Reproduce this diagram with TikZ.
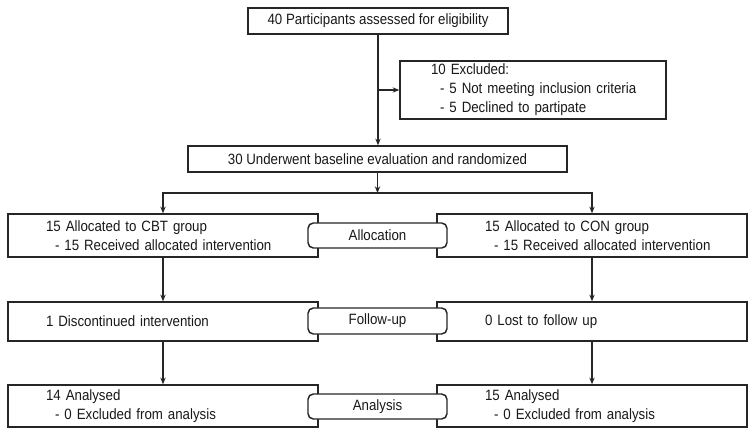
\documentclass[tikz,border=0pt]{standalone}
\usepackage{fontspec}
\setmainfont{Liberation Sans}[FakeStretch=0.89]
\usetikzlibrary{arrows.meta}
\newcommand{\fsz}{\fontsize{11.2}{14.25}\selectfont}
\newcommand{\padL}{\hspace*{28.5pt}}
\newcommand{\padR}{\hspace*{36pt}}
\newcommand{\padE}{\hspace*{23.25pt}}
\newcommand{\ind}{\hspace*{6.75pt}}
\tikzset{
  base box/.style={draw=black!85, line width=1.1pt, rectangle, inner ysep=0pt, font=\fsz, text=black!90, fill=white},
  cbox/.style n args={2}{base box, align=center, minimum width=#1, minimum height=#2, inner xsep=0pt},
  lbox/.style n args={2}{base box, align=left, text width=#1, inner xsep=0pt, minimum height=#2},
  phase/.style={base box, rounded corners=4pt, align=center, minimum width=104.25pt, minimum height=#1, inner xsep=0pt},
  arr/.style={draw=black!85, line width=0.8pt, -{Stealth[length=5pt,width=4pt]}}
}
\begin{document}
\begin{tikzpicture}[x=0.75pt,y=-0.75pt]
\useasboundingbox (0,0) rectangle (756,438);
\node[cbox={195pt}{19.5pt}] (top) at (378,21) {40 Participants assessed for eligibility};
\node[lbox={199.5pt}{43.5pt}] (excl) at (533,90) {\padE 10 Excluded:\\\padE\ind- 5 Not meeting inclusion criteria\\\padE\ind- 5 Declined to partipate};
\node[cbox={284.25pt}{19.5pt}] (base) at (377.5,159) {30 Underwent baseline evaluation and randomized};
\node[lbox={232.5pt}{32.25pt}] (cbt) at (163,235.5) {\padL 15 Allocated to CBT group\\\padL\ind- 15 Received allocated intervention};
\node[lbox={232.5pt}{32.25pt}] (con) at (592,235.5) {\padR 15 Allocated to CON group\\\padR\ind- 15 Received allocated intervention};
\node[lbox={232.5pt}{29.25pt}] (fl) at (163,321.5) {\padL 1 Discontinued intervention};
\node[lbox={232.5pt}{29.25pt}] (fr) at (592,321.5) {\padR 0 Lost to follow up};
\node[lbox={232.5pt}{31.5pt}] (al) at (163,406) {\padL 14 Analysed\\\padL\ind- 0 Excluded from analysis};
\node[lbox={232.5pt}{31.5pt}] (ar) at (592,406) {\padR 15 Analysed\\\padR\ind- 0 Excluded from analysis};
\node[phase=18.75pt] (palloc) at (377.5,235.5) {Allocation};
\node[phase=19.5pt] (pfollow) at (377.5,321) {Follow-up};
\node[phase=18.75pt] (panal) at (377.5,406.5) {Analysis};
\coordinate (split) at (377.5,193);
\draw[arr] (top.south) -- (top.south |- base.north);
\draw[arr] (top.south |- excl.west) -- (excl.west);
\draw[arr] (base.south) -- (split);
\draw[arr] (split) -| (cbt.north);
\draw[arr] (split) -| (con.north);
\draw[arr] (cbt) -- (fl);
\draw[arr] (fl) -- (al);
\draw[arr] (con) -- (fr);
\draw[arr] (fr) -- (ar);
\end{tikzpicture}
\end{document}
